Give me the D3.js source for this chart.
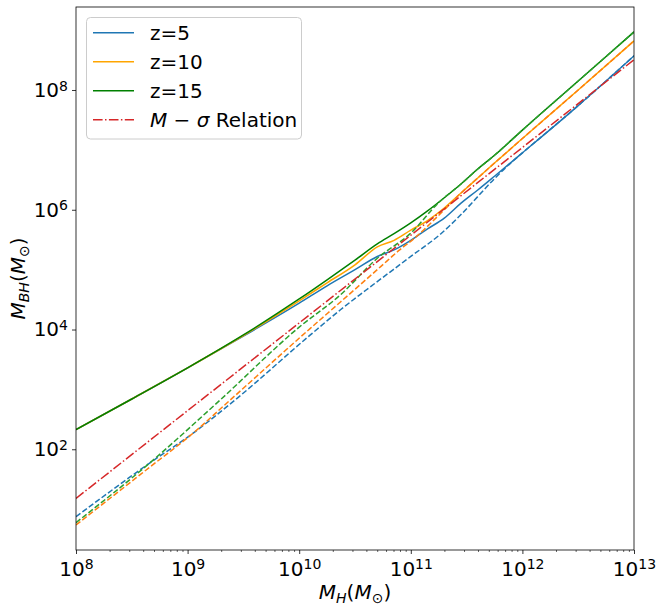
<!DOCTYPE html>
<html lang="en">
<head>
<meta charset="UTF-8">
<title>M_BH vs M_H</title>
<style>
  body { margin: 0; background: #fff; }
  svg { display: block; font-family: "DejaVu Sans", sans-serif; }
</style>
</head>
<body>
<script src="https://d3js.org/d3.v7.min.js"></script>
<script>
// values are log10 of the masses
const logMH = [8, 8.5, 9, 9.5, 10, 10.25, 10.5, 10.7, 10.85, 11, 11.15, 11.3, 11.45, 11.6, 11.75, 12, 12.5, 13];
const solidZ5  = [2.33, 2.84, 3.36, 3.89, 4.44, 4.73, 5.00, 5.22, 5.33, 5.49, 5.68, 5.86, 6.11, 6.33, 6.56, 6.95, 7.74, 8.57];
const solidZ10 = [2.33, 2.84, 3.36, 3.90, 4.48, 4.78, 5.08, 5.38, 5.49, 5.66, 5.82, 6.03, 6.28, 6.53, 6.78, 7.19, 8.00, 8.82];
const solidZ15 = [2.33, 2.84, 3.36, 3.91, 4.51, 4.83, 5.16, 5.43, 5.60, 5.78, 5.98, 6.20, 6.43, 6.68, 6.91, 7.33, 8.15, 8.97];

const dashXZ5  = [8, 8.66, 9.05, 9.41, 10.1, 10.37, 10.6, 11.0, 11.27, 11.45, 11.6, 11.75, 11.9, 12, 12.5, 13];
const dashZ5   = [0.875, 1.77, 2.27, 2.80, 3.91, 4.33, 4.66, 5.22, 5.60, 5.92, 6.22, 6.52, 6.79, 6.95, 7.74, 8.57];
const dashXZ10 = [8, 8.66, 9.05, 9.38, 10.1, 10.37, 10.73, 10.9, 11.03, 11.3, 11.45, 11.6, 11.75, 12, 12.5, 13];
const dashZ10  = [0.736, 1.70, 2.27, 2.82, 4.02, 4.46, 5.05, 5.33, 5.52, 6.00, 6.28, 6.53, 6.78, 7.19, 8.00, 8.82];
const dashXZ15 = [8, 8.66, 9.29, 10.0, 10.37, 10.7, 11.0, 11.25, 11.45, 11.6, 11.75, 12, 12.5, 13];
const dashZ15  = [0.775, 1.77, 2.82, 4.04, 4.58, 5.19, 5.61, 6.12, 6.43, 6.68, 6.91, 7.33, 8.15, 8.97];

const msigmaX = [8, 13];
const msigmaY = [1.18, 8.505];

const xTicks = [8, 9, 10, 11, 12, 13];
const yTicks = [2, 4, 6, 8];
const legendLabels = ["z=5", "z=10", "z=15", "M − σ Relation"];

const W = 661, H = 612;
const mLeft = 76, mRight = 634, mTop = 7, mBottom = 550;

const svg = d3.select("body").append("svg").attr("width", W).attr("height", H);

const x = d3.scaleLog().domain([1e8, 1e13]).range([mLeft, mRight]);
const y = d3.scaleLog().domain([Math.pow(10, 0.318), Math.pow(10, 9.386)]).range([mBottom, mTop]);

function pts(xs, ys) { return xs.map((v, i) => [Math.pow(10, v), Math.pow(10, ys[i])]); }

const line = d3.line().x(d => x(d[0])).y(d => y(d[1])).curve(d3.curveMonotoneX);

svg.append("defs").append("clipPath").attr("id", "plot")
  .append("rect").attr("x", mLeft).attr("y", mTop).attr("width", mRight - mLeft).attr("height", mBottom - mTop);

const g = svg.append("g").attr("clip-path", "url(#plot)");

const series = [
  { d: pts(logMH, solidZ5), c: "#1f77b4", dash: null },
  { d: pts(dashXZ5, dashZ5), c: "#1f77b4", dash: "5.55,2.4" },
  { d: pts(logMH, solidZ10), c: "#ffa500", dash: null },
  { d: pts(dashXZ10, dashZ10), c: "#ff7f0e", dash: "5.55,2.4" },
  { d: pts(logMH, solidZ15), c: "#008000", dash: null },
  { d: pts(dashXZ15, dashZ15), c: "#2ca02c", dash: "5.55,2.4" },
  { d: pts(msigmaX, msigmaY), c: "#d62728", dash: "9.6,2.4,1.5,2.4" }
];

series.forEach(s => {
  g.append("path").attr("d", line(s.d))
    .attr("fill", "none").attr("stroke", s.c).attr("stroke-width", 1.5)
    .attr("stroke-dasharray", s.dash);
});

// axes
function supLabels(sel) {
  sel.selectAll(".tick text").each(function (d) {
    const t = d3.select(this);
    t.text(null).attr("font-size", 20).attr("font-family", "DejaVu Sans").attr("fill", "#000");
    t.append("tspan").text("10");
    t.append("tspan").attr("font-size", 14).attr("dy", "-0.45em").text(Math.round(Math.log10(d)));
  });
}

const xAxis = svg.append("g").attr("transform", `translate(0,${mBottom})`)
  .call(d3.axisBottom(x).tickValues(xTicks.map(v => Math.pow(10, v))).tickSize(4).tickPadding(7.3));
xAxis.call(supLabels);

const minors = [];
for (let e = 8; e < 13; e++) for (let k = 2; k < 10; k++) minors.push(k * Math.pow(10, e));
svg.append("g").attr("transform", `translate(0,${mBottom})`)
  .call(d3.axisBottom(x).tickValues(minors).tickSize(2).tickFormat(""))
  .selectAll("line").attr("stroke-width", 0.6);

const yAxis = svg.append("g").attr("transform", `translate(${mLeft},0)`)
  .call(d3.axisLeft(y).tickValues(yTicks.map(v => Math.pow(10, v))).tickSize(4).tickPadding(4));
yAxis.call(supLabels);

svg.selectAll(".domain").remove();
svg.selectAll(".tick line").attr("stroke", "#000");
xAxis.selectAll(".tick line").attr("stroke-width", 0.8);
yAxis.selectAll(".tick line").attr("stroke-width", 0.8);

svg.append("rect").attr("x", mLeft).attr("y", mTop).attr("width", mRight - mLeft).attr("height", mBottom - mTop)
  .attr("fill", "none").attr("stroke", "#000").attr("stroke-width", 0.8);

// axis labels
const xl = svg.append("text").attr("x", (mLeft + mRight) / 2).attr("y", 599)
  .attr("text-anchor", "middle").attr("font-size", 20);
xl.append("tspan").attr("font-style", "italic").text("M");
xl.append("tspan").attr("font-style", "italic").attr("font-size", 14).attr("dy", 4).text("H");
xl.append("tspan").attr("dy", -4).text("(");
xl.append("tspan").attr("font-style", "italic").text("M");
xl.append("tspan").attr("font-size", 14).attr("dy", 4).text("⊙");
xl.append("tspan").attr("dy", -4).text(")");

const yl = svg.append("text").attr("transform", `translate(25,${(mTop + mBottom) / 2}) rotate(-90)`)
  .attr("text-anchor", "middle").attr("font-size", 20);
yl.append("tspan").attr("font-style", "italic").text("M");
yl.append("tspan").attr("font-style", "italic").attr("font-size", 14).attr("dy", 4).text("BH");
yl.append("tspan").attr("dy", -4).text("(");
yl.append("tspan").attr("font-style", "italic").text("M");
yl.append("tspan").attr("font-size", 14).attr("dy", 4).text("⊙");
yl.append("tspan").attr("dy", -4).text(")");

// legend
const lg = svg.append("g");
lg.append("rect").attr("x", 86.5).attr("y", 17.5).attr("width", 215).attr("height", 121.5).attr("rx", 4)
  .attr("fill", "#fff").attr("fill-opacity", 0.8).attr("stroke", "#cccccc").attr("stroke-width", 1);
const legendStyle = [
  { c: "#1f77b4", dash: null }, { c: "#ffa500", dash: null },
  { c: "#008000", dash: null }, { c: "#d62728", dash: "9.6,2.4,1.5,2.4" }
];
legendLabels.forEach((lab, i) => {
  const yy = 32.7 + i * 29;
  lg.append("line").attr("x1", 93).attr("x2", 134).attr("y1", yy).attr("y2", yy)
    .attr("stroke", legendStyle[i].c).attr("stroke-width", 1.5).attr("stroke-dasharray", legendStyle[i].dash);
  const t = lg.append("text").attr("x", 150).attr("y", yy + 7).attr("font-size", 20);
  if (i < 3) {
    t.text(lab);
  } else {
    t.append("tspan").attr("font-style", "italic").text("M");
    t.append("tspan").text(" − ");
    t.append("tspan").attr("font-style", "italic").text("σ");
    t.append("tspan").text(" Relation");
  }
});
</script>
</body>
</html>
